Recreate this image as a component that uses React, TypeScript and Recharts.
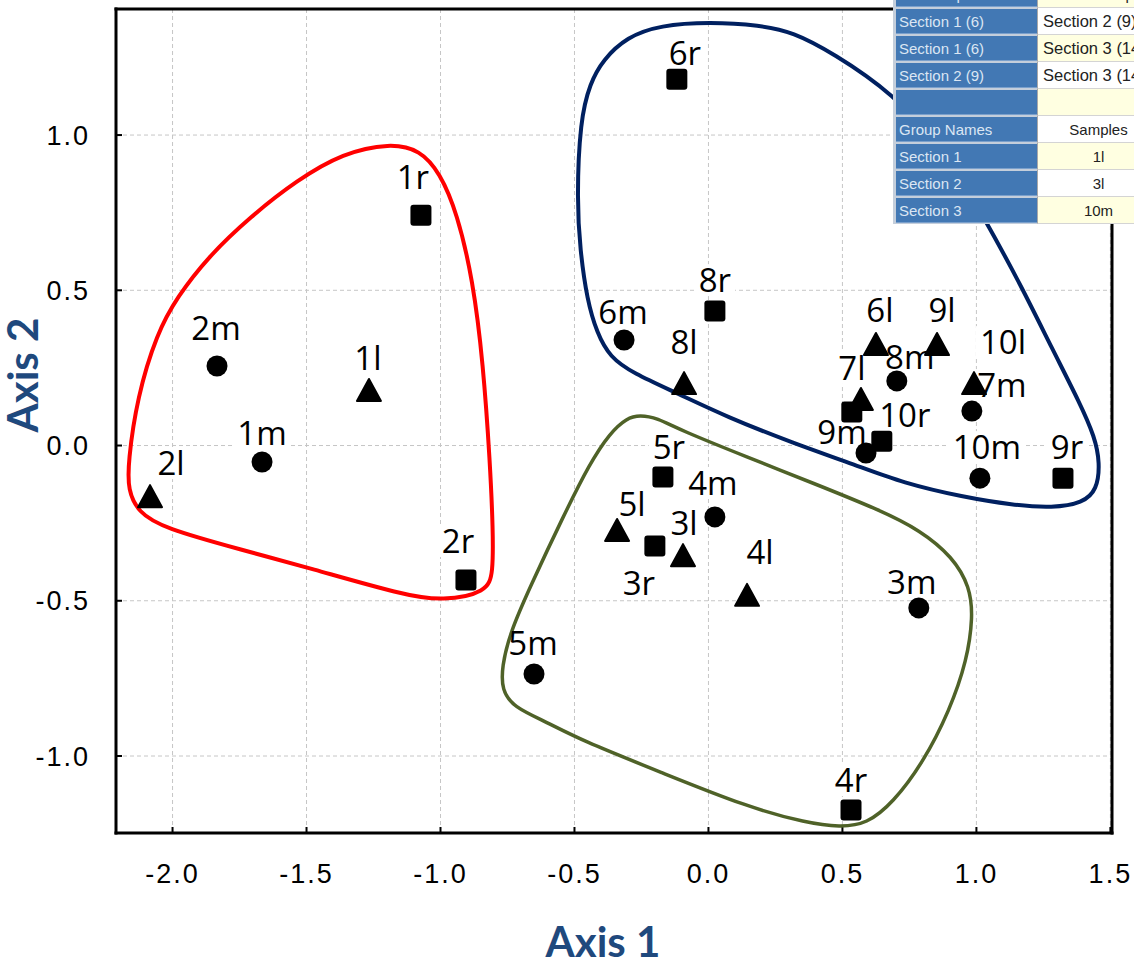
import React from "react"
import { ScatterChart, Scatter, XAxis, YAxis, CartesianGrid } from "recharts"

// axis setup
const xTicks = [-2, -1.5, -1, -0.5, 0, 0.5, 1, 1.5]
const yTicks = [-1, -0.5, 0, 0.5, 1]
const xDomain: [number, number] = [-2.211, 1.506]
const yDomain: [number, number] = [-1.248, 1.406]

// samples: m = circle, l = triangle, r = square
const circleNames = ["1m", "2m", "3m", "4m", "5m", "6m", "7m", "8m", "9m", "10m"]
const circleX = [-1.666, -1.834, 0.785, 0.024, -0.651, -0.315, 0.983, 0.703, 0.588, 1.013]
const circleY = [-0.053, 0.256, -0.523, -0.23, -0.736, 0.34, 0.111, 0.208, -0.024, -0.105]

const triangleNames = ["1l", "2l", "3l", "4l", "5l", "6l", "7l", "8l", "9l", "10l"]
const triangleX = [-1.267, -2.084, -0.095, 0.144, -0.341, 0.625, 0.569, -0.091, 0.853, 0.991]
const triangleY = [0.179, -0.163, -0.353, -0.481, -0.272, 0.327, 0.15, 0.201, 0.327, 0.201]

const squareNames = ["1r", "2r", "3r", "4r", "5r", "6r", "7r", "8r", "9r", "10r"]
const squareX = [-1.073, -0.905, -0.2, 0.532, -0.17, -0.118, 0.535, 0.024, 1.323, 0.647]
const squareY = [0.742, -0.433, -0.324, -1.174, -0.101, 1.18, 0.108, 0.433, -0.105, 0.014]

// group outlines (traced)
const redHullX = [-1.188, -1.076, -1.002, -0.938, -0.879, -0.841, -0.815, -0.804, -0.804, -0.826, -0.991, -1.14, -1.487, -1.737, -2.035, -2.129, -2.166, -2.166, -2.132, -2.058, -1.983, -1.868, -1.711, -1.535, -1.364]
const redHullY = [0.974, 0.952, 0.878, 0.749, 0.533, 0.266, -0.056, -0.272, -0.411, -0.472, -0.501, -0.481, -0.395, -0.337, -0.266, -0.214, -0.143, -0.056, 0.156, 0.362, 0.478, 0.607, 0.736, 0.855, 0.942]

const blueHullX = [0.006, 0.192, 0.315, 0.465, 0.688, 0.882, 1.039, 1.162, 1.285, 1.386, 1.442, 1.461, 1.45, 1.397, 1.285, 1.136, 0.95, 0.726, 0.55, 0.315, 0.069, -0.118, -0.282, -0.368, -0.416, -0.453, -0.479, -0.491, -0.479, -0.442, -0.394, -0.304, -0.181]
const blueHullY = [1.364, 1.354, 1.332, 1.264, 1.135, 0.952, 0.717, 0.523, 0.308, 0.137, 0.027, -0.056, -0.143, -0.185, -0.201, -0.192, -0.166, -0.121, -0.063, 0.008, 0.092, 0.169, 0.233, 0.285, 0.362, 0.469, 0.63, 0.791, 1.048, 1.167, 1.242, 1.316, 1.354]

const greenHullX = [-0.256, -0.192, -0.106, 0.144, 0.39, 0.64, 0.789, 0.912, 0.976, 0.987, 0.965, 0.901, 0.8, 0.688, 0.591, 0.491, 0.368, 0.144, -0.17, -0.479, -0.603, -0.729, -0.771, -0.771, -0.741, -0.666, -0.543, -0.442, -0.368, -0.304]
const greenHullY = [0.098, 0.089, 0.05, -0.037, -0.121, -0.208, -0.272, -0.359, -0.456, -0.552, -0.691, -0.852, -1.023, -1.151, -1.219, -1.229, -1.216, -1.164, -1.055, -0.948, -0.891, -0.842, -0.787, -0.713, -0.604, -0.456, -0.23, -0.056, 0.04, 0.089]

// inset table
const tableLeft = ["1st Group", "Section 1 (6)", "Section 1 (6)", "Section 2 (9)", "", "Group Names", "Section 1", "Section 2", "Section 3"]
const tableRight = ["2nd Group", "Section 2 (9)", "Section 3 (14)", "Section 3 (14)", "", "Samples", "1l", "3l", "10m"]

// label placement relative to the marker, in px
const labelOffset: Record<string, [number, number]> = {
    "1m": [0, -29], "2m": [-1, -38], "3m": [-7, -26], "4m": [-2, -34], "5m": [-1, -31],
    "6m": [-1, -28], "7m": [30, -26], "8m": [13, -24], "9m": [-24, -21], "10m": [7, -31],
    "1l": [-1, -32], "2l": [21, -33], "3l": [1, -32], "4l": [13, -43], "5l": [15, -26],
    "6l": [4, -34], "7l": [-9, -31], "8l": [0, -41], "9l": [5, -34], "10l": [29, -41],
    "1r": [-8, -38], "2r": [-8, -39], "3r": [-16, 37], "4r": [0, -30], "5r": [6, -30],
    "6r": [8, -26], "8r": [0, -31], "9r": [4, -31], "10r": [23, -26],
}

const toPoints = (names: string[], xs: number[], ys: number[]) =>
    names.map((name, i) => ({ name, x: xs[i], y: ys[i] }))
const toHull = (xs: number[], ys: number[]) => xs.map((x, i) => ({ x, y: ys[i] }))

const circles = toPoints(circleNames, circleX, circleY)
const triangles = toPoints(triangleNames, triangleX, triangleY)
const squares = toPoints(squareNames, squareX, squareY)
const allPoints = [...circles, ...triangles, ...squares]

const LABEL_FONT = 33
const charW: Record<string, number> = { m: 0.925, r: 0.408, l: 0.258 }
const textWidth = (s: string) =>
    s.split("").reduce((w, c) => w + (charW[c] ?? 0.572), 0) * LABEL_FONT

const Nothing = () => <g />
const CircleMark = (p: any) => <circle cx={p.cx} cy={p.cy} r={10.5} fill="#000" />
const SquareMark = (p: any) => (
    <rect x={p.cx - 10.5} y={p.cy - 10.5} width={21} height={21} rx={3} fill="#000" />
)
const TriangleMark = (p: any) => (
    <path
        d={`M${p.cx},${p.cy - 11}L${p.cx + 12},${p.cy + 11}L${p.cx - 12},${p.cy + 11}Z`}
        fill="#000"
        stroke="#000"
        strokeWidth={2}
        strokeLinejoin="round"
    />
)

// white box behind each label (hides the grid, like the original)
const LabelBox = (p: any) => {
    const off = labelOffset[p.payload?.name]
    if (!off) return <g />
    const w = textWidth(p.payload.name)
    return (
        <rect
            x={p.cx + off[0] - w / 2 - 4}
            y={p.cy + off[1] - 16}
            width={w + 8}
            height={32}
            fill="#fff"
        />
    )
}
const LabelText = (p: any) => {
    const off = labelOffset[p.payload?.name]
    if (!off) return <g />
    return (
        <text
            x={p.cx + off[0]}
            y={p.cy + off[1] + 12}
            textAnchor="middle"
            fontFamily="'Open Sans', sans-serif"
            fontSize={LABEL_FONT}
            fill="#000"
        >
            {p.payload.name}
        </text>
    )
}

const tickFont = {
    fontFamily: "'Liberation Sans', Arial, sans-serif",
    fontSize: 27,
    letterSpacing: 2,
    fill: "#000",
}
const XTick = (p: any) => (
    <text x={p.x} y={p.y + 56} textAnchor="middle" {...tickFont}>
        {Number(p.payload.value).toFixed(1)}
    </text>
)
const YTick = (p: any) => (
    <text x={p.x - 32} y={p.y + 9.5} textAnchor="end" {...tickFont}>
        {Number(p.payload.value).toFixed(1)}
    </text>
)

const axisLine = { stroke: "#000", strokeWidth: 3, strokeLinecap: "square" as const }
const tickLine = { stroke: "#000", strokeWidth: 2 }

function InsetTable() {
    const rowH = 27
    return (
        <div
            style={{
                position: "absolute",
                left: 893,
                top: -19,
                width: 241,
                height: rowH * tableLeft.length,
                overflow: "hidden",
                background: "#c4cedb",
                fontFamily: "'Liberation Sans', Arial, sans-serif",
                fontSize: 15,
            }}
        >
            {tableLeft.map((left, i) => {
                const leftAligned = i >= 1 && i <= 3
                return (
                    <div
                        key={i}
                        style={{
                            position: "absolute",
                            top: i * rowH,
                            left: 3,
                            height: rowH,
                            width: 300,
                            display: "flex",
                        }}
                    >
                        <div
                            style={{
                                width: 141,
                                height: rowH - 2,
                                marginTop: 1,
                                background: "#4278b4",
                                color: "#dbe6f3",
                                lineHeight: `${rowH - 2}px`,
                                paddingLeft: 3,
                                boxSizing: "border-box",
                                borderBottom: "1px solid #7aa0cc",
                            }}
                        >
                            {left}
                        </div>
                        <div
                            style={{
                                width: 122,
                                height: rowH,
                                background: i % 2 === 0 ? "#ffffe1" : "#ffffff",
                                color: "#222",
                                lineHeight: `${rowH}px`,
                                borderLeft: "1px solid #a8a8a8",
                                borderBottom: "1px solid #d4d4d4",
                                boxSizing: "border-box",
                                textAlign: leftAligned ? "left" : "center",
                                paddingLeft: leftAligned ? 5 : 0,
                                fontSize: leftAligned ? 16.5 : 15,
                                whiteSpace: "nowrap",
                            }}
                        >
                            {tableRight[i]}
                        </div>
                    </div>
                )
            })}
        </div>
    )
}

export default function App() {
    return (
        <div
            style={{
                position: "absolute",
                left: 0,
                top: 0,
                width: 1134,
                height: 966,
                overflow: "hidden",
                background: "#fff",
            }}
        >
            <ScatterChart
                width={1134}
                height={966}
                margin={{ top: 8, right: 21, bottom: 0, left: 0 }}
            >
                <CartesianGrid stroke="#c6c6c6" strokeDasharray="4 3" />
                <XAxis
                    type="number"
                    dataKey="x"
                    domain={xDomain}
                    ticks={xTicks}
                    allowDataOverflow
                    height={133}
                    tickSize={-6}
                    tickMargin={0}
                    axisLine={axisLine}
                    tickLine={tickLine}
                    tick={<XTick />}
                />
                <YAxis
                    type="number"
                    dataKey="y"
                    domain={yDomain}
                    ticks={yTicks}
                    allowDataOverflow
                    width={116}
                    tickSize={-6}
                    tickMargin={0}
                    axisLine={axisLine}
                    tickLine={tickLine}
                    tick={<YTick />}
                />
                <XAxis
                    xAxisId="top"
                    orientation="top"
                    type="number"
                    domain={xDomain}
                    ticks={xTicks}
                    allowDataOverflow
                    height={1}
                    tickSize={-6}
                    axisLine={axisLine}
                    tickLine={tickLine}
                    tick={false}
                />
                <YAxis
                    yAxisId="right"
                    orientation="right"
                    type="number"
                    domain={yDomain}
                    ticks={yTicks}
                    allowDataOverflow
                    width={1}
                    tickSize={-6}
                    axisLine={axisLine}
                    tickLine={tickLine}
                    tick={false}
                />

                <Scatter data={allPoints} shape={LabelBox} isAnimationActive={false} />

                <Scatter
                    data={toHull(redHullX, redHullY)}
                    shape={Nothing}
                    line={{ stroke: "#ff0000", strokeWidth: 4 }}
                    lineType="joint"
                    lineJointType="basisClosed"
                    isAnimationActive={false}
                />
                <Scatter
                    data={toHull(blueHullX, blueHullY)}
                    shape={Nothing}
                    line={{ stroke: "#002060", strokeWidth: 4 }}
                    lineType="joint"
                    lineJointType="basisClosed"
                    isAnimationActive={false}
                />
                <Scatter
                    data={toHull(greenHullX, greenHullY)}
                    shape={Nothing}
                    line={{ stroke: "#4f6228", strokeWidth: 3.5 }}
                    lineType="joint"
                    lineJointType="basisClosed"
                    isAnimationActive={false}
                />

                <Scatter data={circles} shape={CircleMark} isAnimationActive={false} />
                <Scatter data={triangles} shape={TriangleMark} isAnimationActive={false} />
                <Scatter data={squares} shape={SquareMark} isAnimationActive={false} />
                <Scatter data={allPoints} shape={LabelText} isAnimationActive={false} />
            </ScatterChart>

            <svg
                width={1134}
                height={966}
                style={{ position: "absolute", left: 0, top: 0, pointerEvents: "none" }}
            >
                <text
                    x={603}
                    y={957}
                    textAnchor="middle"
                    fontFamily="Lato, sans-serif"
                    fontWeight="bold"
                    fontSize={42}
                    fill="#1f497d"
                >
                    Axis 1
                </text>
                <text
                    x={38}
                    y={375}
                    transform="rotate(-90 38 375)"
                    textAnchor="middle"
                    fontFamily="Lato, sans-serif"
                    fontWeight="bold"
                    fontSize={42}
                    fill="#1f497d"
                >
                    Axis 2
                </text>
            </svg>

            <InsetTable />
        </div>
    )
}
